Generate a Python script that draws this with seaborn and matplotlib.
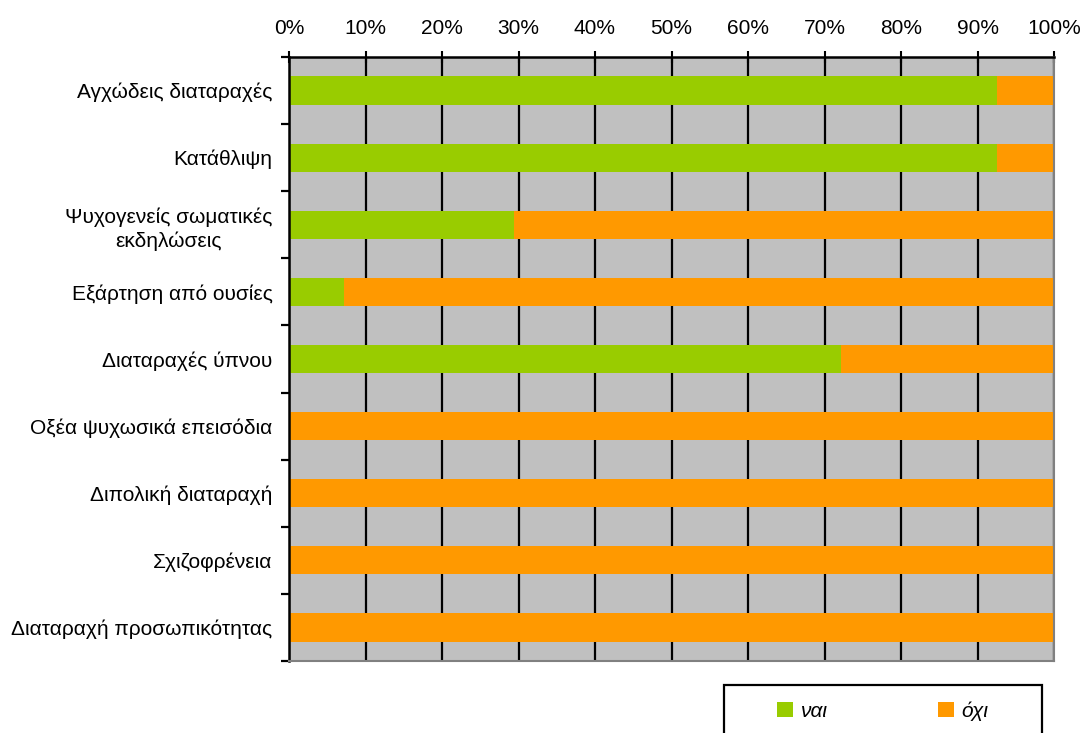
import matplotlib
matplotlib.use("Agg")
import matplotlib.pyplot as plt
from matplotlib.patches import Patch, Rectangle
from matplotlib.ticker import FixedLocator, FuncFormatter
import numpy as np
import pandas as pd
import seaborn as sns

# Share of "yes" answers per condition (percent); the rest is "no"
categories = [
    "Αγχώδεις διαταραχές",
    "Κατάθλιψη",
    "Ψυχογενείς σωματικές\nεκδηλώσεις",
    "Εξάρτηση από ουσίες",
    "Διαταραχές ύπνου",
    "Οξέα ψυχωσικά επεισόδια",
    "Διπολική διαταραχή",
    "Σχιζοφρένεια",
    "Διαταραχή προσωπικότητας",
]
yes_pct = [92.6, 92.6, 29.4, 7.2, 72.2, 0.0, 0.0, 0.0, 0.0]
no_pct = [7.4, 7.4, 70.6, 92.8, 27.8, 100.0, 100.0, 100.0, 100.0]
legend_labels = ["ναι", "όχι"]

GREEN = "#99CC00"
ORANGE = "#FF9900"
PLOT_BG = "#C0C0C0"

sns.set_style("white")
plt.rcParams["font.family"] = ["Liberation Sans", "DejaVu Sans"]
plt.rcParams["font.size"] = 15
for key in ("text.color", "axes.labelcolor", "xtick.color", "ytick.color"):
    plt.rcParams[key] = "black"

df = pd.DataFrame({
    "category": categories,
    "yes": yes_pct,
    "total": np.array(yes_pct) + np.array(no_pct),
})

fig = plt.figure(figsize=(10.83, 7.33), dpi=100)
ax = fig.add_axes([289 / 1083, 1 - 661 / 733, 765 / 1083, 604 / 733])
ax.set_facecolor(PLOT_BG)

# Stacked horizontal bars: full-length "no" bar underneath, "yes" part on top
sns.barplot(data=df, x="total", y="category", orient="h", color=ORANGE,
            saturation=1, width=0.42, ax=ax, linewidth=0)
sns.barplot(data=df, x="yes", y="category", orient="h", color=GREEN,
            saturation=1, width=0.42, ax=ax, linewidth=0)

ax.set_xlim(0, 100)
ax.set_ylim(len(categories) - 0.5, -0.5)
ax.set_xlabel("")
ax.set_ylabel("")

# Percentage axis on top with black vertical gridlines behind the bars
ax.xaxis.tick_top()
ax.xaxis.set_major_locator(FixedLocator(np.arange(0, 101, 10)))
ax.xaxis.set_major_formatter(FuncFormatter(lambda v, p: f"{v:.0f}%"))
ax.tick_params(axis="x", which="major", top=True, direction="inout",
               length=8, width=1.5, colors="black", labelsize=15, pad=10)
ax.set_axisbelow(True)
ax.xaxis.grid(True, color="black", linewidth=1.6)

# Category labels with tick marks between the categories
ax.tick_params(axis="y", which="major", left=False, length=0, pad=11.8,
               labelsize=15, labelcolor="black")
ax.yaxis.set_minor_locator(FixedLocator(np.arange(-0.5, len(categories), 1.0)))
ax.tick_params(axis="y", which="minor", left=True, direction="out",
               length=6, width=1.6, color="black")
for lbl in ax.get_yticklabels():
    lbl.set_multialignment("center")
    lbl.set_linespacing(1.3)

for side in ("left", "top"):
    ax.spines[side].set_color("black")
    ax.spines[side].set_linewidth(1.8)
for side in ("right", "bottom"):
    ax.spines[side].set_color("#808080")
    ax.spines[side].set_linewidth(1.5)

# Legend in a box at the lower right
fig.patches.append(Rectangle((724 / 1083, -0.05), (1042 - 724) / 1083,
                             0.05 + 1 - 685 / 733, transform=fig.transFigure,
                             facecolor="white", edgecolor="black",
                             linewidth=1.6, zorder=0))
handles = [Patch(facecolor=GREEN, edgecolor="none"),
           Patch(facecolor=ORANGE, edgecolor="none")]
fig.legend(handles, legend_labels, loc="center left",
           bbox_to_anchor=(777 / 1083, 1 - 711 / 733), ncol=2, frameon=False,
           borderpad=0, borderaxespad=0, handlelength=0.78, handleheight=0.78,
           handletextpad=0.35, columnspacing=5.3,
           prop={"style": "italic", "size": 15})

fig.savefig("out.png", dpi=100)
